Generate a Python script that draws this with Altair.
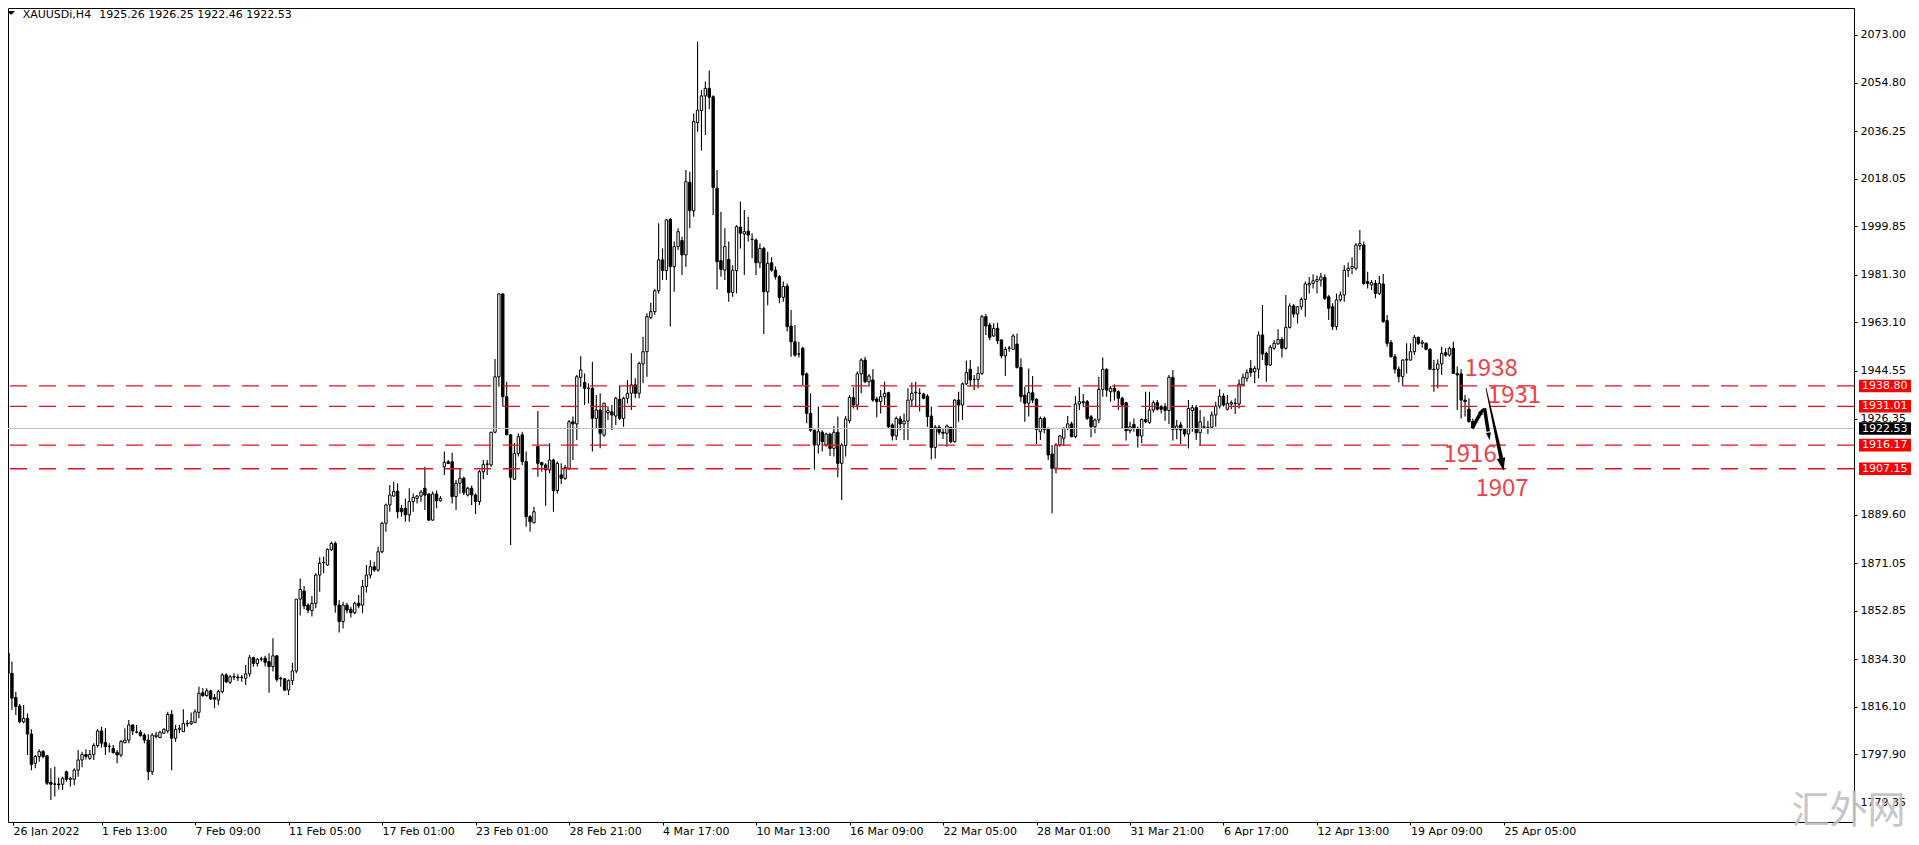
import altair as alt
import pandas as pd

TITLE_SYMBOL = "XAUUSDi,H4"
TITLE_OHLC = "1925.26 1926.25 1922.46 1922.53"

# H4 candles as (open, high, low, close)
SEG_JAN26_FEB10 = [
    (1836.6,1838.7,1828.3,1828.9),(1828.9,1833.4,1814.9,1819.4),(1819.7,1821.9,1813.0,1816.2),(1816.4,1817.2,1809.8,1810.4),(1810.4,1816.8,1809.8,1811.7),
    (1811.7,1813.6,1797.7,1805.7),(1805.7,1807.5,1791.9,1794.1),(1794.5,1797.7,1792.6,1797.1),(1797.1,1799.9,1795.1,1799.0),(1799.0,1799.6,1796.4,1797.1),
    (1797.4,1797.7,1786.2,1786.9),(1787.2,1792.6,1780.5,1786.5),(1786.5,1793.2,1781.8,1786.6),(1786.6,1789.0,1784.5,1786.3),(1786.5,1789.4,1784.3,1788.8),
    (1791.3,1791.7,1787.5,1788.4),(1788.4,1789.4,1785.6,1788.8),(1788.4,1792.6,1786.2,1791.9),(1791.9,1799.6,1789.4,1795.8),(1795.8,1798.9,1793.0,1797.9),
    (1797.9,1799.9,1796.0,1797.1),(1796.4,1799.6,1795.8,1797.9),(1797.9,1802.2,1795.8,1801.3),(1801.3,1807.5,1800.6,1806.9),(1806.9,1808.5,1800.5,1802.2),
    (1802.5,1807.9,1797.7,1800.9),(1800.9,1802.2,1798.6,1801.0),(1800.2,1801.5,1798.3,1798.6),(1798.7,1799.6,1794.5,1797.7),(1797.7,1803.4,1796.8,1802.8),
    (1802.4,1807.9,1802.2,1803.4),(1803.4,1811.1,1802.2,1809.2),(1809.2,1809.2,1805.3,1806.9),(1806.4,1809.2,1806.0,1806.5),(1806.4,1807.2,1804.7,1805.1),
    (1805.3,1806.0,1802.2,1803.4),(1803.4,1805.6,1788.1,1791.3),(1791.3,1806.0,1790.0,1805.3),(1804.7,1806.6,1804.1,1805.3),(1804.4,1807.0,1804.1,1806.4),
    (1806.0,1807.9,1805.7,1807.5),(1806.9,1814.2,1806.0,1813.2),(1813.2,1814.9,1791.9,1804.1),(1804.1,1809.2,1802.8,1807.5),(1807.5,1809.2,1806.0,1807.9),
    (1806.6,1815.2,1806.6,1809.8),(1809.8,1811.1,1808.5,1809.6),(1809.6,1813.9,1809.2,1810.4),(1810.2,1815.2,1809.8,1814.2),(1814.0,1823.8,1811.7,1821.3),
    (1821.5,1823.2,1820.0,1820.4),(1820.4,1823.2,1820.0,1822.2),(1822.2,1822.6,1818.7,1819.1),(1819.6,1821.0,1815.6,1819.0),(1818.7,1822.6,1816.8,1821.9),
    (1821.9,1828.9,1821.3,1828.3),(1828.3,1828.9,1825.1,1825.7),(1825.5,1828.3,1824.8,1827.6),(1827.6,1828.9,1826.4,1827.5),(1827.5,1828.6,1826.0,1827.2),
    (1827.4,1828.3,1825.7,1827.3),(1827.0,1832.1,1824.5,1828.7),(1828.7,1835.9,1827.6,1834.9),(1834.9,1835.3,1831.5,1832.7),(1832.7,1834.7,1831.5,1834.3),
    (1834.3,1835.3,1833.4,1834.4),(1834.7,1835.6,1831.5,1833.1),(1833.4,1836.6,1821.5,1831.5),(1831.5,1842.3,1829.6,1835.6),(1835.6,1835.9,1825.7,1826.6),
    (1826.8,1827.6,1823.8,1827.0),(1826.8,1827.0,1822.3,1822.5),(1822.5,1826.6,1820.6,1826.1),(1826.1,1833.0,1824.5,1829.8),(1829.8,1857.3,1828.9,1857.3),
    (1857.3,1865.2,1851.0,1861.0),
]
SEG_FEB11_FEB21 = [
    (1860.4,1862.3,1853.4,1854.7),(1855.0,1855.7,1851.9,1853.1),(1852.9,1858.5,1850.6,1855.7),(1855.7,1867.2,1853.8,1866.5),(1866.5,1873.3,1860.1,1871.0),
    (1871.2,1873.5,1867.2,1871.3),(1870.3,1876.7,1870.0,1876.3),(1876.1,1879.3,1875.8,1878.6),(1878.6,1879.3,1852.1,1855.0),(1855.0,1856.9,1844.5,1848.7),
    (1848.7,1856.3,1846.1,1855.0),(1855.0,1855.9,1851.9,1853.1),(1853.4,1854.4,1850.3,1852.1),(1852.1,1856.3,1851.5,1855.7),(1855.7,1858.9,1853.8,1854.7),
    (1855.0,1864.6,1851.9,1862.1),(1862.1,1870.3,1859.8,1866.5),(1866.5,1872.2,1865.2,1869.7),(1869.7,1871.6,1867.8,1868.4),(1868.4,1877.3,1867.8,1875.4),
    (1875.4,1886.9,1874.8,1886.3),(1886.3,1893.9,1883.1,1893.3),(1893.3,1900.9,1890.7,1897.1),(1896.7,1902.2,1896.5,1898.4),(1898.6,1901.6,1888.2,1890.7),
    (1892.0,1893.3,1888.8,1890.7),(1892.0,1895.8,1886.9,1889.5),(1889.5,1899.7,1886.9,1894.6),(1894.6,1897.7,1890.7,1896.2),(1895.8,1897.1,1893.9,1896.7),
    (1896.7,1899.0,1894.5,1898.2),(1899.7,1907.9,1891.4,1897.1),(1897.5,1897.7,1887.3,1887.5),(1887.5,1898.4,1887.3,1897.5),(1897.5,1898.8,1892.0,1894.9),
    (1894.9,1896.7,1894.6,1895.8),
]
SEG_FEB21_MAR01 = [
    (1907.9,1913.7,1904.8,1909.6),(1909.8,1910.5,1909.0,1909.2),(1909.8,1913.3,1893.9,1896.5),(1896.5,1902.8,1891.4,1901.6),(1901.6,1907.3,1897.7,1903.5),
    (1903.5,1904.1,1897.1,1898.0),(1897.1,1900.3,1896.5,1899.7),(1899.7,1900.6,1893.3,1897.1),(1897.1,1897.7,1889.8,1894.6),(1894.6,1906.7,1893.3,1906.0),
    (1906.0,1910.5,1903.1,1908.8),(1908.8,1910.5,1904.8,1909.0),(1908.6,1921.3,1907.9,1921.1),(1921.1,1949.1,1920.7,1942.3),(1942.3,1974.2,1938.5,1974.0),
    (1974.0,1974.2,1930.9,1934.7),(1934.7,1940.4,1920.1,1920.1),(1920.1,1920.4,1878.0,1903.9),(1903.1,1916.9,1902.8,1913.0),(1913.0,1920.7,1911.8,1919.4),
    (1920.1,1921.3,1908.6,1909.9),(1909.9,1913.7,1885.0,1888.8),(1888.8,1889.5,1883.1,1886.9),(1886.5,1892.6,1886.3,1890.7),(1915.6,1929.2,1904.1,1909.2),
    (1909.5,1909.8,1906.0,1908.6),(1908.6,1909.2,1893.0,1906.7),(1906.7,1916.9,1905.4,1910.5),(1910.5,1911.1,1890.7,1898.8),(1898.8,1909.9,1897.7,1909.2),
    (1904.8,1909.2,1901.3,1903.5),(1903.5,1908.6,1902.8,1907.6),(1907.3,1925.8,1906.7,1925.1),(1925.1,1927.1,1910.5,1924.3),(1924.3,1943.0,1918.1,1942.3),
]
SEG_MAR01_MAR14 = [
    (1942.1,1950.2,1938.5,1944.9),(1940.1,1943.6,1931.5,1937.9),(1937.9,1939.8,1932.1,1938.0),(1937.9,1948.1,1913.7,1926.4),(1926.4,1935.3,1922.6,1929.6),
    (1929.6,1936.0,1915.0,1920.7),(1920.0,1932.4,1919.4,1932.2),(1928.6,1930.9,1925.8,1929.4),(1928.9,1931.5,1921.9,1927.7),(1927.3,1934.7,1923.9,1934.1),
    (1933.7,1938.8,1925.8,1926.4),(1926.4,1934.7,1923.2,1934.1),(1934.1,1941.1,1932.1,1936.0),(1936.0,1951.3,1929.6,1939.2),(1939.2,1941.7,1934.1,1936.0),
    (1936.0,1948.1,1934.1,1947.4),(1947.2,1957.6,1939.8,1951.9),(1951.9,1966.6,1942.3,1965.3),(1965.0,1970.6,1964.3,1967.2),(1967.2,1976.0,1966.0,1975.2),
    (1975.2,2001.0,1974.2,1987.0),(1987.0,1991.4,1979.3,1982.9),(1982.9,2002.5,1979.3,2002.3),(2002.5,2002.9,1961.5,1984.4),(1984.4,1994.0,1974.8,1992.1),
    (1992.1,1999.1,1990.8,1997.8),(1994.4,1995.9,1981.2,1988.9),(1988.9,2021.4,1984.4,2016.9),(2016.7,2020.7,1999.1,2005.8),(2005.8,2043.0,2003.5,2039.9),
    (2039.5,2070.4,2036.0,2044.3),(2044.1,2051.9,2028.8,2049.7),(2049.7,2055.2,2034.8,2052.6),(2052.6,2059.4,2044.6,2049.2),(2049.4,2050.0,2004.2,2014.7),
    (2014.4,2021.4,1975.7,1986.3),(1986.7,2005.4,1980.6,1983.4),(1983.1,1999.1,1979.3,1992.1),(1987.2,1994.0,1971.0,1974.5),(1974.5,1985.0,1972.9,1983.1),
    (1982.9,2000.3,1974.2,1999.7),(1999.5,2009.3,1991.4,1997.2),(1996.9,2006.1,1981.2,1997.8),(1998.0,2003.5,1994.0,1996.5),(1994.9,1997.2,1987.6,1994.8),
    (1994.6,1995.2,1981.2,1985.9),(1985.9,1993.3,1983.8,1991.4),(1991.4,1992.0,1958.7,1974.8),(1974.8,1990.1,1969.7,1985.7),(1985.9,1988.0,1982.5,1983.1),
    (1983.1,1984.5,1979.5,1980.6),(1980.6,1981.2,1970.4,1972.7),(1972.7,1978.7,1971.0,1976.8),(1977.0,1978.0,1959.6,1961.5),(1961.7,1967.8,1950.0,1955.7),
    (1955.7,1962.1,1950.0,1950.6),(1951.0,1955.7,1949.7,1951.0),(1953.2,1953.8,1939.2,1943.0),(1943.4,1943.9,1924.5,1928.3),(1928.3,1936.0,1921.3,1921.9),
]
SEG_MAR14_MAR29 = [
    (1921.9,1921.9,1906.9,1916.2),(1916.2,1930.9,1913.0,1921.3),(1921.1,1921.9,1913.7,1917.5),(1916.2,1920.9,1915.6,1920.4),(1920.4,1920.9,1912.0,1914.9),
    (1914.9,1923.5,1911.8,1921.1),(1921.1,1927.1,1903.9,1909.2),(1909.2,1916.9,1895.2,1916.2),(1916.0,1927.3,1911.8,1926.2),(1925.5,1935.3,1924.5,1934.4),
    (1934.4,1938.3,1930.2,1931.5),(1931.5,1944.3,1929.6,1943.4),(1943.4,1949.4,1936.0,1948.7),(1948.7,1950.0,1939.8,1940.4),(1940.4,1943.4,1938.5,1942.6),
    (1941.1,1945.2,1932.8,1933.4),(1933.8,1934.7,1926.8,1932.8),(1932.8,1937.3,1928.3,1934.7),(1934.7,1940.4,1931.5,1936.0),(1936.2,1936.6,1922.6,1923.2),
    (1923.9,1924.5,1917.9,1919.7),(1919.7,1927.1,1918.1,1926.4),(1926.2,1927.3,1921.9,1924.3),(1924.3,1928.3,1918.1,1925.4),(1925.4,1937.9,1918.1,1933.4),
    (1933.4,1940.1,1930.9,1936.0),(1936.2,1940.4,1930.9,1936.4),(1936.0,1937.9,1929.0,1936.0),(1935.7,1936.2,1933.7,1934.1),(1934.9,1935.6,1923.2,1927.1),
    (1927.3,1930.9,1910.7,1915.3),(1915.3,1923.9,1911.1,1923.0),(1923.0,1923.9,1920.1,1921.1),(1921.1,1922.5,1918.5,1920.7),(1920.7,1924.1,1915.6,1923.5),
    (1923.0,1923.2,1916.9,1917.5),(1917.5,1933.7,1917.1,1933.4),(1933.4,1936.6,1925.1,1931.5),(1931.5,1940.1,1925.8,1939.6),(1939.6,1948.5,1939.2,1943.9),
    (1945.2,1948.7,1938.5,1941.1),(1941.3,1943.0,1937.2,1941.3),(1941.3,1946.2,1937.9,1943.6),(1943.6,1965.9,1943.0,1965.3),(1965.3,1966.3,1958.3,1961.7),
    (1962.1,1963.0,1956.4,1957.4),(1957.9,1962.8,1957.6,1960.8),(1960.8,1963.0,1954.8,1956.1),(1956.4,1956.6,1949.4,1950.3),(1950.3,1953.8,1942.6,1952.8),
    (1953.2,1954.1,1951.9,1953.3),(1952.8,1958.7,1952.6,1957.9),(1954.8,1958.9,1945.5,1945.9),(1945.9,1949.4,1932.8,1934.7),(1935.3,1938.5,1925.1,1932.2),
    (1932.2,1945.5,1927.1,1936.2),(1936.2,1942.6,1932.2,1933.4),(1933.7,1934.1,1916.6,1922.2),(1921.3,1927.1,1918.1,1926.4),(1926.4,1927.1,1920.7,1922.2),
    (1922.6,1922.8,1910.5,1912.4),(1912.8,1916.2,1890.1,1907.3),(1907.3,1916.9,1905.4,1916.2),(1916.2,1920.0,1915.6,1919.7),(1918.8,1923.0,1915.8,1922.6),
    (1922.6,1927.3,1921.9,1924.3),(1924.3,1925.1,1919.2,1919.4),(1919.4,1934.9,1918.8,1931.9),(1931.9,1938.3,1929.6,1932.8),(1932.4,1935.7,1930.9,1932.8),
    (1932.8,1933.4,1925.8,1926.4),
]
SEG_MAR29_APR13 = [
    (1927.0,1927.7,1919.2,1923.2),(1923.2,1926.4,1920.7,1925.8),(1925.8,1942.3,1924.5,1937.5),(1937.5,1949.7,1934.7,1945.2),(1945.2,1945.5,1934.7,1937.2),
    (1936.6,1938.8,1932.8,1937.9),(1937.9,1939.5,1933.2,1936.6),(1936.6,1937.2,1929.6,1934.1),(1934.1,1934.7,1922.6,1931.5),(1932.4,1932.8,1917.9,1921.7),
    (1921.7,1925.1,1920.7,1923.2),(1924.1,1926.4,1921.3,1922.6),(1922.6,1923.2,1915.3,1919.7),(1919.7,1926.4,1916.9,1926.0),(1926.0,1936.6,1924.5,1925.1),
    (1924.8,1936.6,1924.3,1929.6),(1929.6,1933.2,1928.6,1932.4),(1932.4,1933.4,1929.4,1929.9),(1930.9,1931.5,1928.3,1929.9),(1930.9,1932.2,1925.5,1929.4),
    (1929.4,1943.0,1924.3,1942.1),(1942.1,1944.9,1917.9,1922.2),(1922.2,1925.8,1918.4,1923.5),(1923.9,1925.1,1916.6,1922.0),(1922.2,1922.6,1919.4,1920.4),
    (1920.4,1933.4,1914.9,1930.2),(1929.4,1931.5,1921.3,1930.5),(1930.5,1931.5,1918.1,1920.9),(1920.9,1929.6,1915.8,1925.1),(1923.0,1927.1,1922.6,1923.2),
    (1923.0,1925.5,1920.4,1922.9),(1923.0,1929.0,1922.6,1927.7),(1927.7,1932.8,1923.2,1931.1),(1931.1,1937.5,1930.2,1934.9),(1934.9,1936.0,1930.9,1931.5),
    (1929.9,1935.3,1929.4,1932.2),(1931.9,1933.2,1929.9,1932.4),(1932.1,1934.1,1928.1,1932.2),(1931.9,1941.3,1930.2,1939.5),(1939.2,1943.6,1938.8,1942.1),
    (1941.7,1945.2,1940.4,1943.9),(1945.5,1948.7,1942.3,1943.9),(1944.2,1946.4,1939.8,1945.5),(1945.2,1959.6,1941.7,1958.3),(1958.3,1969.8,1948.7,1951.0),
    (1951.3,1951.9,1940.4,1946.8),(1946.8,1954.5,1946.4,1953.6),(1953.2,1956.4,1952.6,1955.1),(1954.9,1960.5,1954.5,1956.6),(1956.6,1957.4,1949.7,1953.2),
    (1953.2,1973.6,1952.6,1961.2),(1961.2,1970.4,1960.8,1969.4),(1969.4,1970.1,1965.0,1966.3),(1966.3,1969.4,1962.7,1969.1),(1969.1,1972.7,1967.9,1971.9),
    (1971.9,1978.7,1965.3,1977.8),(1977.4,1980.5,1974.2,1978.0),(1978.0,1981.5,1976.1,1979.0),(1978.8,1981.0,1974.2,1979.5),(1979.3,1982.0,1976.8,1980.5),
    (1980.3,1981.5,1971.7,1972.3),(1972.9,1973.6,1964.0,1968.5),(1969.1,1970.4,1960.2,1961.5),(1961.5,1974.2,1960.2,1971.7),(1971.7,1974.9,1971.0,1973.6),
    (1973.6,1985.0,1971.0,1983.0),(1983.0,1986.0,1980.5,1983.8),
]
SEG_APR13_APR22 = [
    (1983.8,1988.0,1981.5,1984.5),(1983.8,1993.5,1983.0,1992.7),(1992.4,1998.4,1990.8,1993.3),(1992.7,1994.0,1977.4,1978.0),(1978.7,1982.5,1976.1,1978.0),
    (1977.4,1979.3,1975.5,1978.3),(1978.0,1979.3,1972.3,1974.2),(1974.2,1980.8,1973.6,1978.0),(1977.8,1981.6,1963.0,1963.4),(1963.8,1965.9,1953.8,1955.1),
    (1955.4,1956.4,1949.7,1950.0),(1950.0,1951.0,1943.6,1945.2),(1945.2,1946.2,1940.1,1942.4),(1942.4,1949.0,1939.2,1948.7),(1948.7,1955.1,1943.6,1949.0),
    (1948.7,1955.1,1948.5,1951.9),(1951.9,1958.3,1950.6,1957.4),(1957.4,1957.6,1954.5,1955.1),(1955.1,1956.5,1953.5,1955.6),(1955.1,1955.4,1952.5,1952.8),
    (1952.8,1953.2,1944.9,1945.2),(1945.2,1948.7,1936.6,1945.0),(1945.2,1949.0,1937.9,1947.2),(1947.2,1953.8,1943.0,1951.3),(1951.5,1953.2,1950.0,1950.6),
    (1950.6,1953.8,1950.0,1953.2),(1953.2,1955.7,1943.4,1943.6),(1943.6,1946.2,1929.6,1943.0),(1943.4,1945.2,1926.4,1933.4),(1933.4,1935.3,1927.1,1932.8),
    (1929.9,1934.1,1924.8,1925.1),(1925.26,1926.25,1922.46,1922.53),
]

TIME_LABELS = ["26 Jan 2022", "1 Feb 13:00", "7 Feb 09:00", "11 Feb 05:00", "17 Feb 01:00",
               "23 Feb 01:00", "28 Feb 21:00", "4 Mar 17:00", "10 Mar 13:00", "16 Mar 09:00",
               "22 Mar 05:00", "28 Mar 01:00", "31 Mar 21:00", "6 Apr 17:00", "12 Apr 13:00",
               "19 Apr 09:00", "25 Apr 05:00"]
BARS_PER_LABEL = 24
Y_TICKS = [2073.00, 2054.80, 2036.25, 2018.05, 1999.85, 1981.30, 1963.10, 1944.55, 1926.35,
           1889.60, 1871.05, 1852.85, 1834.30, 1816.10, 1797.90, 1779.35]
LEVELS = [1938.80, 1931.01, 1916.17, 1907.15]
LAST_PRICE = 1922.53

NOTE_TEXT = ["1938", "1931", "1916", "1907"]
NOTE_BAR = [380.7, 386.7, 375.3, 383.5]
NOTE_PRICE = [1945.3, 1935.0, 1912.4, 1899.4]

ZIG_SEG = ["a", "a", "b", "b"]
ZIG_BAR = [375.8, 378.05, 379.0, 379.95]
ZIG_PRICE = [1922.6, 1928.6, 1930.3, 1921.4]
LONG_BAR = [379.4, 383.45]
LONG_PRICE = [1937.9, 1910.2]
LONG_WIDTH = [0.8, 4.0]
HEAD_BAR = [378.8, 380.3, 383.9]
HEAD_PRICE = [1930.6, 1918.1, 1906.4]
HEAD_ANGLE = [29, 171, 168]
HEAD_SIZE = [70, 70, 200]

# ---------------- build tables ----------------
candles = (SEG_JAN26_FEB10 + SEG_FEB11_FEB21 + SEG_FEB21_MAR01 + SEG_MAR01_MAR14
           + SEG_MAR14_MAR29 + SEG_MAR29_APR13 + SEG_APR13_APR22)
df = pd.DataFrame(candles, columns=["o", "h", "l", "c"])
df["i"] = range(len(df))

levels_df = pd.DataFrame({"p": LEVELS})
tags_df = pd.DataFrame({"p": LEVELS + [LAST_PRICE],
                        "bg": ["#ff0000"] * len(LEVELS) + ["#000000"]})
last_df = pd.DataFrame({"p": [LAST_PRICE]})
notes_df = pd.DataFrame({"t": NOTE_TEXT, "i": NOTE_BAR, "p": NOTE_PRICE})
zig_df = pd.DataFrame({"seg": ZIG_SEG, "i": ZIG_BAR, "p": ZIG_PRICE})
long_df = pd.DataFrame({"i": LONG_BAR, "p": LONG_PRICE, "w": LONG_WIDTH})
head_df = pd.DataFrame({"i": HEAD_BAR, "p": HEAD_PRICE, "a": HEAD_ANGLE, "s": HEAD_SIZE})
one = pd.DataFrame({"k": [0]})

W, H = 1846, 814
XS = alt.Scale(domain=[1.276, 472.56], nice=False, zero=False)
YS = alt.Scale(domain=[1772.07, 2083.32], nice=False, zero=False)

# label lookup as nested conditionals (tick k sits at bar k*24)
expr = "''"
for k in range(len(TIME_LABELS) - 1, -1, -1):
    expr = "datum.value < " + str(BARS_PER_LABEL * k + 12) + " ? '" + TIME_LABELS[k] + "' : (" + expr + ")"

x_axis = alt.Axis(
    values=[1.3] + [BARS_PER_LABEL * k for k in range(1, len(TIME_LABELS))],
    labelExpr=expr,
    labelAlign="left", labelBaseline="top", labelFont="DejaVu Sans", labelFontSize=11,
    labelColor="black", labelPadding=0, labelFlush=False, labelOverlap=False,
    tickColor="black", tickSize=3, domain=False, grid=False, title=None)
y_axis = alt.Axis(
    orient="right", values=Y_TICKS, format=".2f", labelFont="DejaVu Sans", labelFontSize=11,
    labelColor="black", labelPadding=3, labelFlush=False, labelOverlap=False,
    tickColor="black", tickSize=3, domain=False, grid=False, title=None)


def X(field):
    return alt.X(field, type="quantitative", scale=XS, axis=x_axis)


def Y(field):
    return alt.Y(field, type="quantitative", scale=YS, axis=y_axis)


wicks = alt.Chart(df).mark_rule(color="black", strokeWidth=1.1).encode(
    x=X("i"), y=Y("l"), y2="h:Q")

bodies = alt.Chart(df).mark_bar(size=2.4, stroke="black", strokeWidth=1).encode(
    x=X("i"), y=Y("o"), y2="c:Q",
    fill=alt.condition("datum.c >= datum.o", alt.value("white"), alt.value("black")))

last_line = alt.Chart(last_df).mark_rule(color="#c0c0c0", strokeWidth=1).encode(y=Y("p"))

level_lines = alt.Chart(levels_df).mark_rule(
    color="#e0141e", strokeWidth=1.3, strokeDash=[17, 12]).encode(y=Y("p"))

tags = alt.Chart(tags_df).transform_calculate(
    top="datum.p + 2.4", bot="datum.p - 2.4").mark_rect().encode(
    x=alt.value(W + 5), x2=alt.value(W + 57),
    y=Y("top"), y2="bot:Q",
    fill=alt.Fill("bg:N", scale=None))

tag_text = alt.Chart(tags_df).mark_text(
    align="left", baseline="middle", font="DejaVu Sans", fontSize=11, color="white").encode(
    x=alt.value(W + 8), y=Y("p"), text=alt.Text("p:Q", format=".2f"))

notes = alt.Chart(notes_df).mark_text(
    font="Noto Sans CJK SC", fontSize=24, color="#ef3f48", align="center", baseline="middle").encode(
    x=X("i"), y=Y("p"), text="t:N")

zig = alt.Chart(zig_df).mark_line(color="black", strokeWidth=3.5, strokeCap="butt").encode(
    x=X("i"), y=Y("p"), detail="seg:N")

long_arrow = alt.Chart(long_df).mark_trail(color="black").encode(
    x=X("i"), y=Y("p"), size=alt.Size("w:Q", scale=None, legend=None))

heads = alt.Chart(head_df).mark_point(
    shape="M0,0L0.6,1.8L-0.6,1.8Z", filled=True, color="black", opacity=1).encode(
    x=X("i"), y=Y("p"),
    angle=alt.Angle("a:Q", scale=None), size=alt.Size("s:Q", scale=None, legend=None))

marker = alt.Chart(one).mark_point(
    shape="M-1,-0.5L1,-0.5L0,0.5Z", filled=True, color="black", opacity=1, size=64).encode(
    x=alt.value(3), y=alt.value(5))
title_sym = alt.Chart(one).mark_text(
    align="left", baseline="middle", font="DejaVu Sans", fontSize=11, color="black").encode(
    x=alt.value(14.7), y=alt.value(7), text=alt.value(TITLE_SYMBOL))
title_ohlc = alt.Chart(one).mark_text(
    align="left", baseline="middle", font="DejaVu Sans", fontSize=11, color="black").encode(
    x=alt.value(91.3), y=alt.value(7), text=alt.value(TITLE_OHLC))

watermark = alt.Chart(one).mark_text(
    align="center", baseline="middle", font="Noto Sans CJK SC", fontSize=38,
    color="#c2c2c2", opacity=0.9).encode(
    x=alt.value(1840.5), y=alt.value(803.5), text=alt.value("汇外网"))

chart = alt.layer(
    wicks, bodies, last_line, level_lines, tags, tag_text, notes,
    zig, long_arrow, heads, marker, title_sym, title_ohlc, watermark
).properties(
    width=W, height=H,
    autosize=alt.AutoSizeParams(type="none"),
    padding={"left": 0, "top": 0, "right": 57, "bottom": 14},
    background="white",
).configure_view(stroke="black", strokeWidth=1)

chart.save("out.html", embed_options={"renderer": "svg", "actions": False})
